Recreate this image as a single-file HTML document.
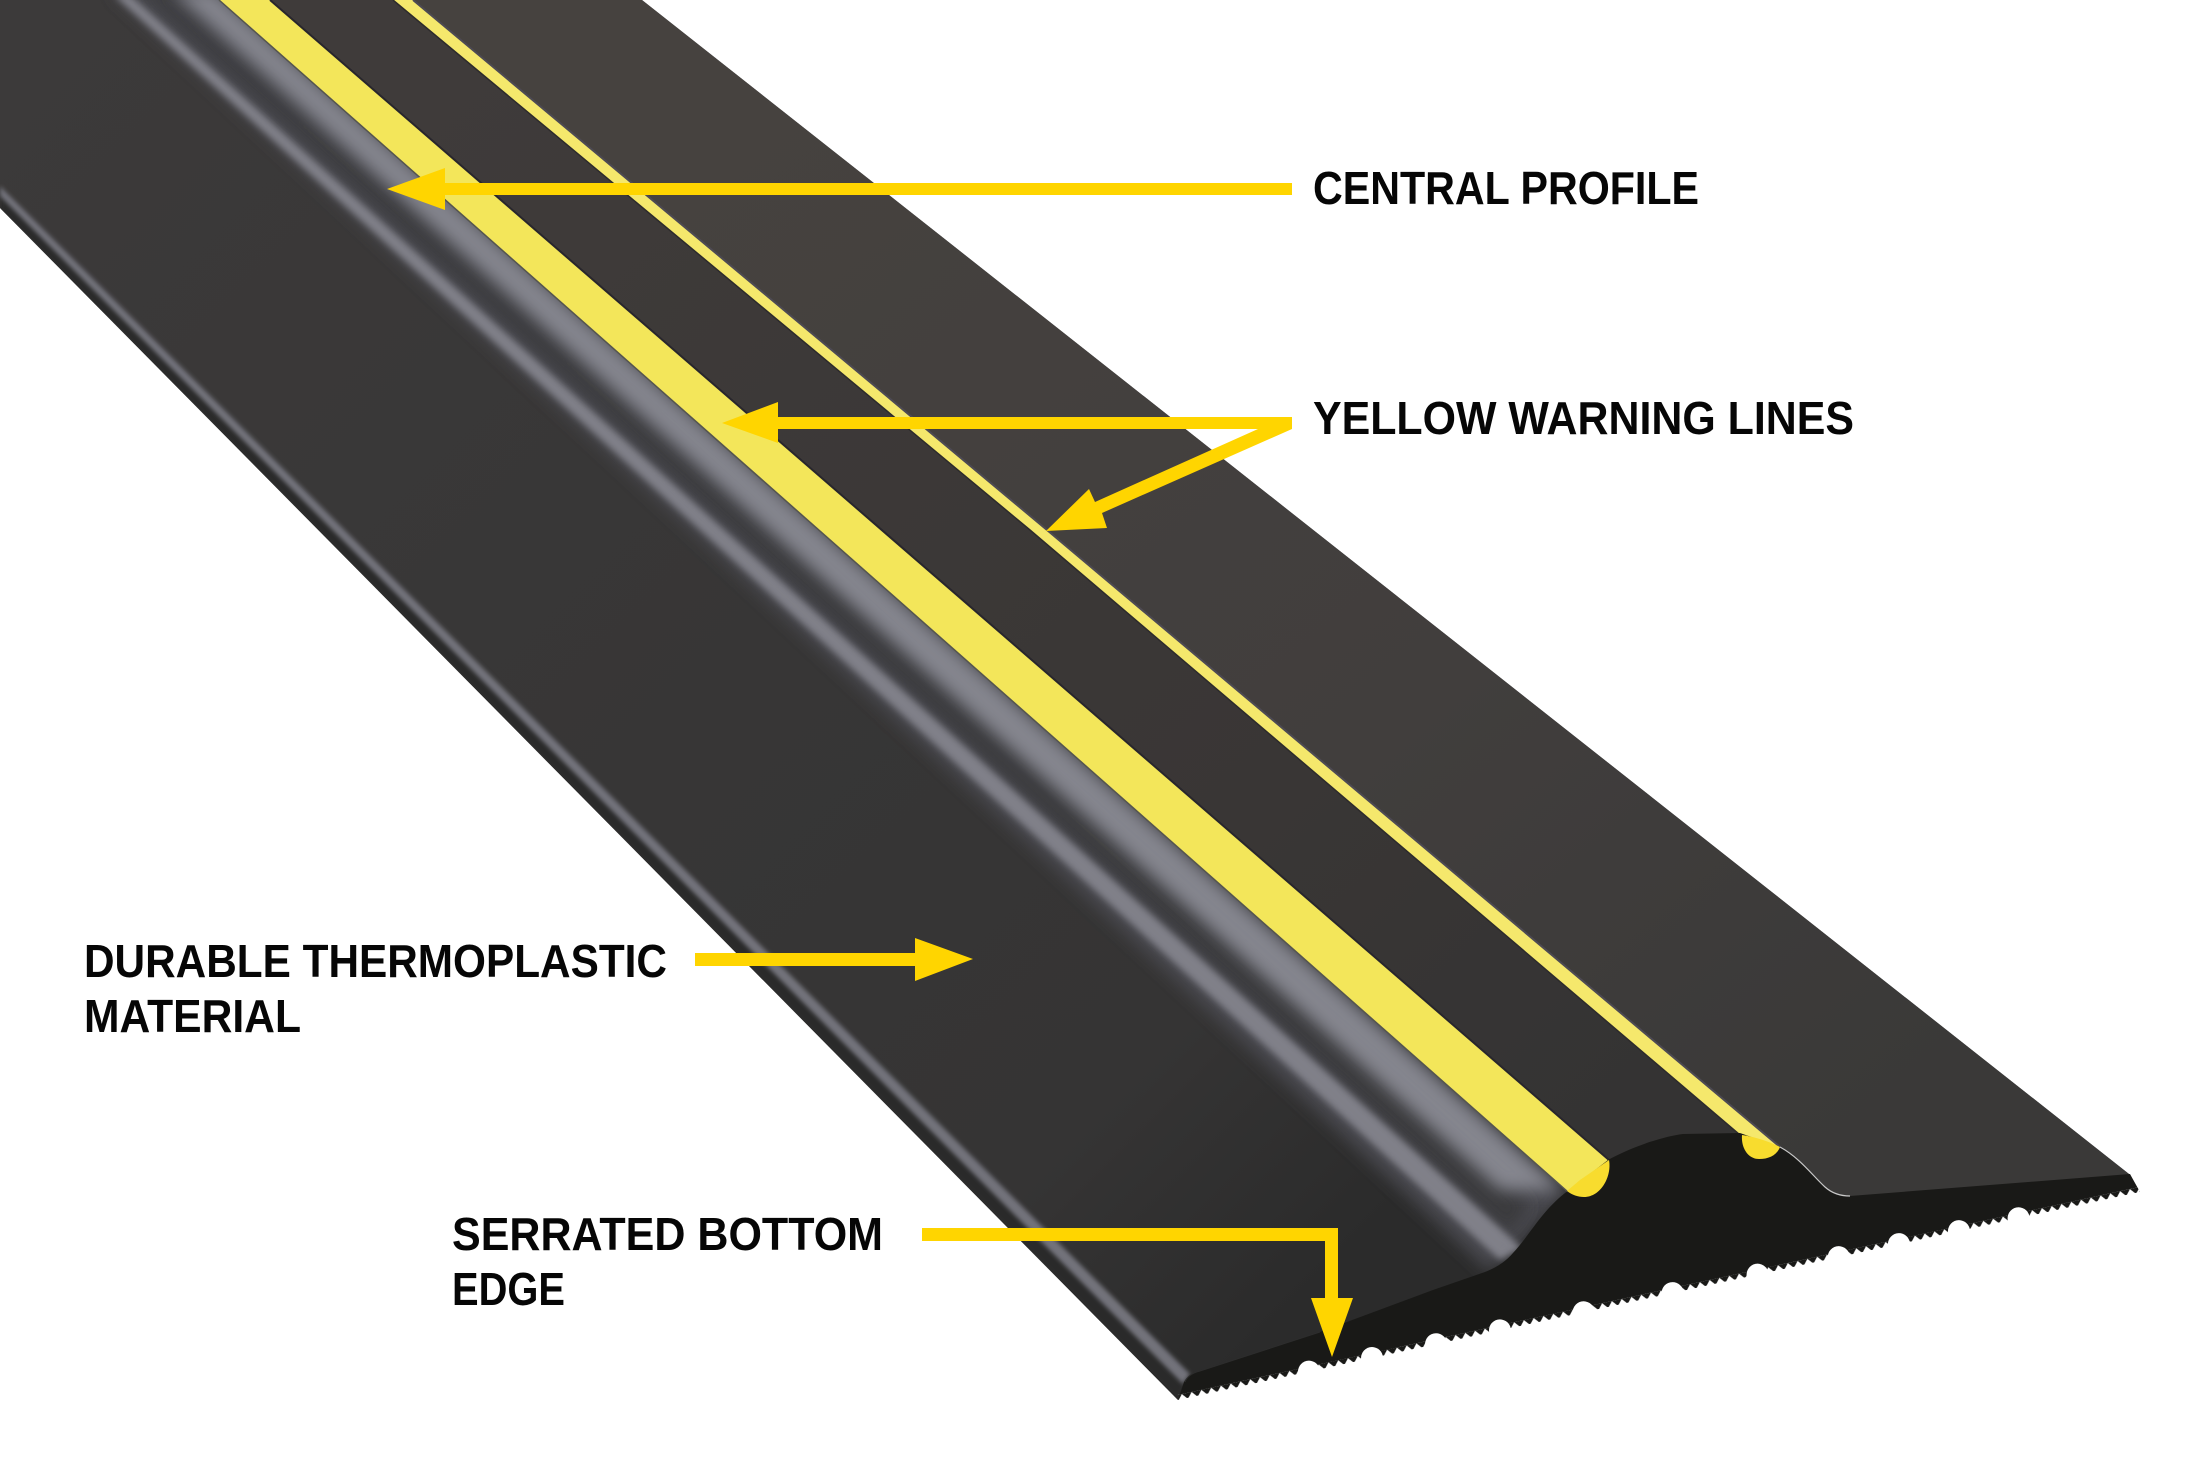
<!DOCTYPE html>
<html>
<head>
<meta charset="utf-8">
<style>
html,body{margin:0;padding:0;background:#fff;width:2209px;height:1476px;overflow:hidden}
svg{display:block}
text{font-family:"Liberation Sans",sans-serif;font-weight:700;font-size:46px;fill:#060606}
</style>
</head>
<body>
<svg width="2209" height="1476" viewBox="0 0 2209 1476" xmlns="http://www.w3.org/2000/svg">
<defs>
<filter id="b2" x="-20%" y="-20%" width="140%" height="140%"><feGaussianBlur stdDeviation="2"/></filter>
<filter id="b3" x="-20%" y="-20%" width="140%" height="140%"><feGaussianBlur stdDeviation="3.5"/></filter>
<filter id="b8" x="-20%" y="-20%" width="140%" height="140%"><feGaussianBlur stdDeviation="8"/></filter>
<clipPath id="top"><path d="M0,0 L642,0 L2129,1174 L2140,1192 L1178,1400 L0,208 Z"/></clipPath>
<linearGradient id="main" gradientUnits="userSpaceOnUse" x1="0" y1="0" x2="1300" y2="1300">
<stop offset="0" stop-color="#3c3a3a"/><stop offset=".55" stop-color="#373636"/><stop offset=".85" stop-color="#353434"/><stop offset="1" stop-color="#2b2b2b"/>
</linearGradient>
<linearGradient id="right" gradientUnits="userSpaceOnUse" x1="800" y1="0" x2="1800" y2="1200">
<stop offset="0" stop-color="#46423f"/><stop offset=".6" stop-color="#413e3d"/><stop offset="1" stop-color="#3a3938"/>
</linearGradient>
<linearGradient id="mid" gradientUnits="userSpaceOnUse" x1="500" y1="0" x2="1600" y2="1150">
<stop offset="0" stop-color="#3f3b3a"/><stop offset=".7" stop-color="#393635"/><stop offset="1" stop-color="#343333"/>
</linearGradient>
<pattern id="teeth" patternUnits="userSpaceOnUse" width="10" height="6" x="0" y="-5">
<path d="M0,6 L5,0 L10,6 Z" fill="#fff"/>
</pattern>
</defs>

<!-- top surface -->
<g clip-path="url(#top)">
<rect x="0" y="0" width="2209" height="1476" fill="url(#main)"/>
<!-- right flat -->
<path d="M413,0 L700,0 L2200,1180 L2200,1300 L1780,1300 L1780,1147 L1047,530 Z" fill="url(#right)"/>
<!-- between stripes -->
<path d="M270,0 L413,0 L1047,530 L1780,1147 L1740,1133 L1609,1160 Z" fill="url(#mid)"/>
<!-- left rim dark strip -->
<path d="M0,190 L0,212 L1178,1402 L1188,1380 Z" fill="#2a2a2b" filter="url(#b2)"/>
<path d="M0,186 L0,196 L1183,1384 L1190,1374 Z" fill="#72727a" filter="url(#b2)"/>
<!-- band base -->
<path d="M110,-10 L225,-10 L1568,1192 L1490,1272 Z" fill="#4a4a4f" filter="url(#b8)"/>
<path d="M140,-10 L165,-10 L1530,1205 L1510,1235 Z" fill="#3a3a3e" filter="url(#b8)"/>
<!-- band highlight -->
<path d="M172,-10 L212,-10 L1562,1190 L1500,1190 Z" fill="#8f9099" opacity=".86" filter="url(#b8)"/>
<!-- rib highlight -->
<path d="M114,-5 L130,-5 L1522,1248 L1500,1260 Z" fill="#85858e" opacity=".92" filter="url(#b3)"/>
<!-- wide yellow stripe -->
<path d="M219,0 L270,0 L1609,1160 L1568,1192 Z" fill="#f3e65a"/>
<path d="M270,0 L1609,1160" stroke="#28262c" stroke-width="2" fill="none"/>
<path d="M219,0 L1568,1192" stroke="#55554f" stroke-width="1.5" fill="none"/>
<!-- thin yellow stripe -->
<path d="M393,0 L413,0 L1047,530 L1780,1147 L1740,1135 L1030,530 Z" fill="#f5e86c"/>
<path d="M413,0 L1047,530 L1780,1147" stroke="#4d4a53" stroke-width="2" fill="none"/>
<path d="M393,0 L1030,530 L1740,1135" stroke="#2d2b2b" stroke-width="1.5" fill="none"/>
</g>

<!-- end section -->
<path d="M1178,1400 L1184,1382 Q1188,1374 1200,1371 L1320,1332 L1433,1290 L1485,1272 Q1503,1265 1513,1253 C1530,1235 1540,1213 1565,1193 L1608,1160 C1630,1148 1660,1137 1683,1134 L1740,1133 L1780,1147 C1800,1158 1812,1175 1825,1187 Q1835,1196 1850,1196 L2130,1174 L2140,1192 Z" fill="#191917"/>
<path d="M1780,1147 C1800,1158 1812,1175 1825,1187 Q1835,1196 1850,1196" fill="none" stroke="#c8c8c8" stroke-width="1.2"/>
<path d="M1185,1382 Q1188,1374 1200,1371 L1320,1332" fill="none" stroke="#2d2d2d" stroke-width="1"/>

<!-- yellow end caps -->
<path d="M1609,1160 C1612,1176 1601,1197 1584,1197 C1578,1197 1572,1195 1567,1191 L1580,1180 Z" fill="#f8dc2e"/>
<path d="M1742,1135 C1741,1148 1748,1159 1759,1159 C1769,1159 1777,1155 1780,1147 C1768,1141 1755,1137 1742,1135 Z" fill="#f8dc2e"/>

<!-- serrated edge -->
<g transform="translate(1178,1400) rotate(-12.2)">
<rect x="0" y="-5" width="984" height="6" fill="url(#teeth)"/>
<rect x="-4" y="0" width="996" height="8" fill="#fff"/>
<ellipse cx="134" cy="0" rx="11" ry="11" fill="#fff"/>
<ellipse cx="198.5" cy="0" rx="11" ry="11" fill="#fff"/>
<ellipse cx="264" cy="0" rx="11" ry="11" fill="#fff"/>
<ellipse cx="329.4" cy="0" rx="11" ry="11" fill="#fff"/>
<ellipse cx="415" cy="0" rx="11" ry="11" fill="#fff"/>
<ellipse cx="506" cy="0" rx="11" ry="11" fill="#fff"/>
<ellipse cx="593" cy="0" rx="11" ry="11" fill="#fff"/>
<ellipse cx="676" cy="0" rx="11" ry="11" fill="#fff"/>
<ellipse cx="737.6" cy="0" rx="11" ry="11" fill="#fff"/>
<ellipse cx="799" cy="0" rx="11" ry="11" fill="#fff"/>
<ellipse cx="860" cy="0" rx="11" ry="11" fill="#fff"/>
</g>

<!-- arrows -->
<g fill="#ffd500">
<path d="M1292,183 L445,183 L445,168 L387,189 L445,210 L445,195 L1292,195 Z"/>
<path d="M1292,417 L778,417 L778,402 L722,423 L778,443 L778,429 L1258,429 L1095,502 L1089,489 L1046,531 L1107,528 L1102,513 L1292,429 Z"/>
<path d="M695,953 L915,953 L915,938 L973,959 L915,981 L915,966 L695,966 Z"/>
<path d="M922,1228 L1338,1228 L1338,1298 L1353,1298 L1332,1357 L1311,1298 L1325,1298 L1325,1241 L922,1241 Z"/>
</g>

<!-- labels -->
<text x="1313" y="204" textLength="386" lengthAdjust="spacingAndGlyphs">CENTRAL PROFILE</text>
<text x="1313" y="434" textLength="541" lengthAdjust="spacingAndGlyphs">YELLOW WARNING LINES</text>
<text x="84" y="977" textLength="583" lengthAdjust="spacingAndGlyphs">DURABLE THERMOPLASTIC</text>
<text x="84" y="1032" textLength="217" lengthAdjust="spacingAndGlyphs">MATERIAL</text>
<text x="452" y="1250" textLength="431" lengthAdjust="spacingAndGlyphs">SERRATED BOTTOM</text>
<text x="452" y="1305" textLength="113" lengthAdjust="spacingAndGlyphs">EDGE</text>
</svg>
</body>
</html>
